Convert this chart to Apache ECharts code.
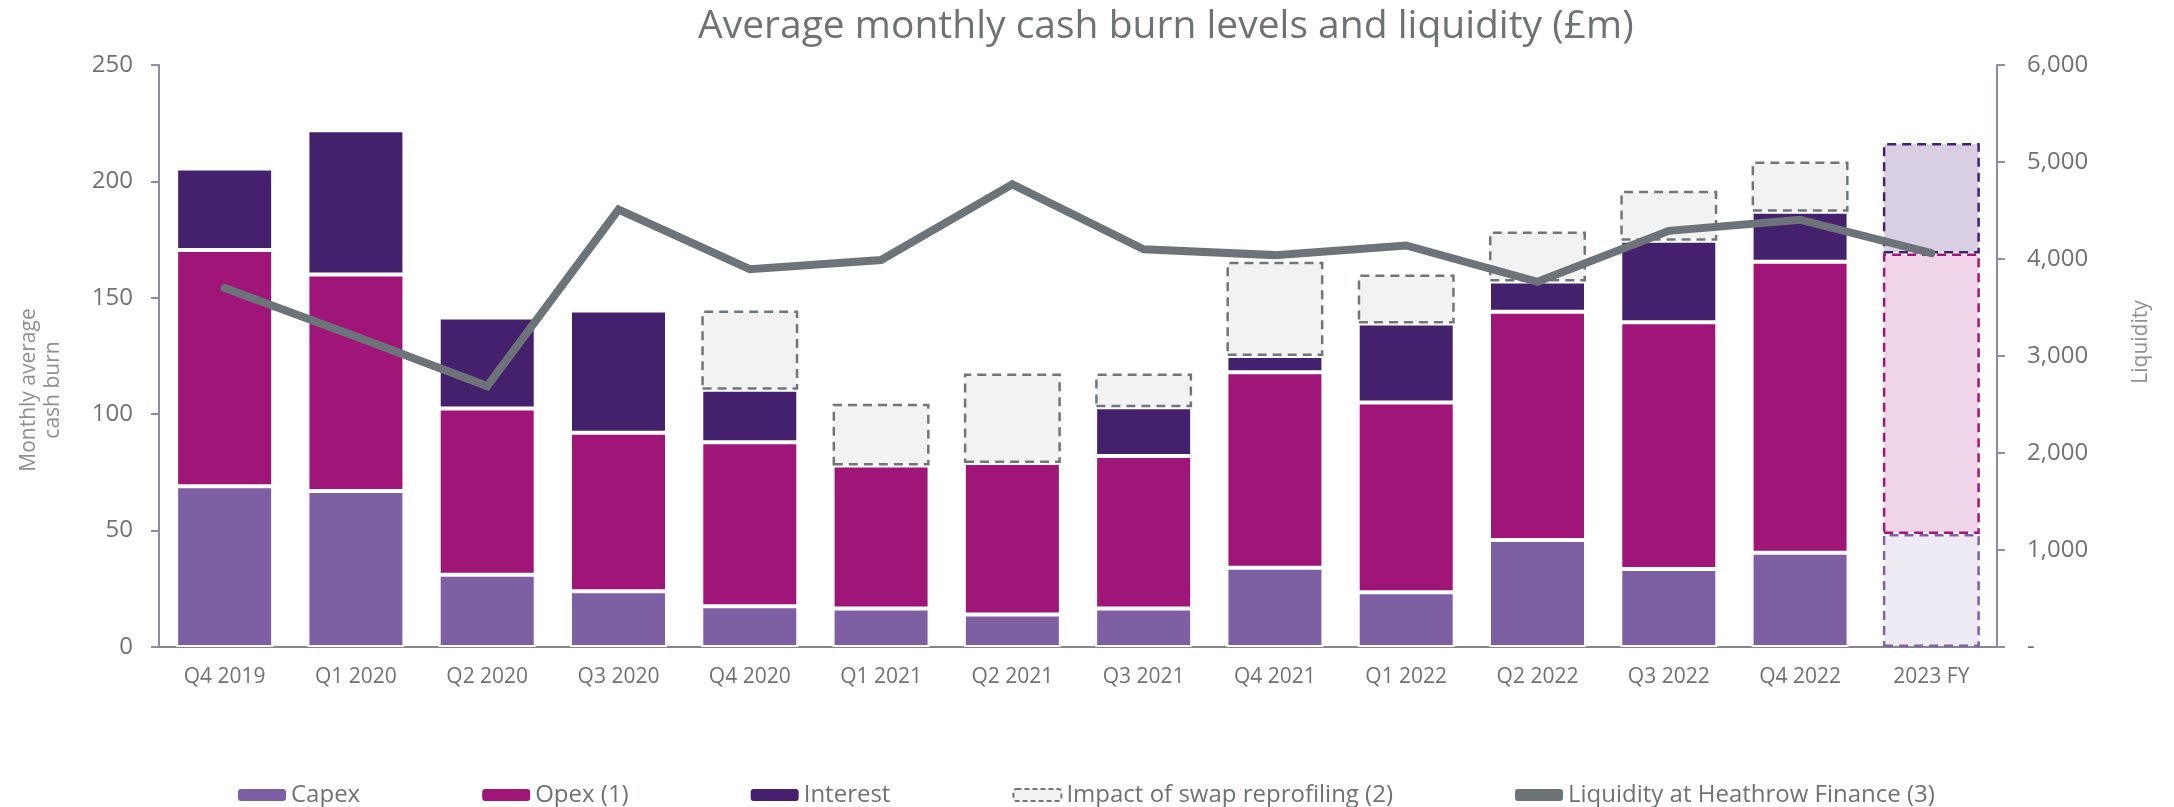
<!DOCTYPE html>
<html lang="en">
<head>
  <meta charset="UTF-8">
  <title>Average monthly cash burn levels and liquidity</title>
  <script src="https://cdn.jsdelivr.net/npm/echarts@6/dist/echarts.min.js"></script>
  <style>
    html, body, #main {
      margin: 0;
      padding: 0;
      width: 2174px;
      height: 807px;
      background: #fff;
    }
  </style>
</head>
<body>
  <div id="main"></div>

  <script>
    const quarters = ["Q4 2019", "Q1 2020", "Q2 2020", "Q3 2020", "Q4 2020", "Q1 2021", "Q2 2021",
                      "Q3 2021", "Q4 2021", "Q1 2022", "Q2 2022", "Q3 2022", "Q4 2022", "2023 FY"];

    // £m, monthly average
    const capex    = [69, 67, 31, 24, 17.5, 16.5, 14, 16.5, 34, 23.5, 46, 33.5, 40.5, 48.5];
    const opex     = [101.5, 93, 71.5, 68, 70.5, 61.5, 65, 65.5, 84, 81.5, 98, 106, 125, 120.5];
    const interest = [35, 62, 39, 52.5, 22.5, null, null, 21, 7, 34, 13, 35, 21.5, 47.5];
    const swap     = [null, null, null, null, 34, 26.5, 38.5, 14.5, 40.5, 21, 21.5, 21.5, 21.5, null];

    // £m liquidity at Heathrow Finance
    const liquidity = [3700, 3200, 2690, 4510, 3895, 3990, 4770, 4100, 4040, 4140, 3765, 4290, 4405, 4060];

    const font = "'Open Sans', sans-serif";
    const textGrey = '#6d7275';
    const lastIdx = quarters.length - 1;

    // the 2023 FY bar is a forecast: pale fill with dashed outline
    function withForecast(values, fill, edge) {
      return values.map((v, i) => i === lastIdx && v != null ? {
        value: v,
        itemStyle: { color: fill, borderColor: edge, borderType: [9, 6], borderWidth: 2.5 }
      } : v);
    }

    const chart = echarts.init(document.getElementById('main'));
    const option = {
      animation: false,
      title: {
        text: 'Average monthly cash burn levels and liquidity (£m)',
        left: 693,
        top: 2,
        textStyle: { fontFamily: font, fontSize: 39, fontWeight: 'normal', color: textGrey }
      },
      legend: {
        left: 233,
        top: 778,
        itemWidth: 48,
        itemHeight: 12,
        itemGap: 122,
        textStyle: { fontFamily: font, fontSize: 24, color: textGrey },
        data: [
          { name: 'Capex', itemStyle: { borderWidth: 0 } },
          { name: 'Opex (1)', itemStyle: { borderWidth: 0 } },
          { name: 'Interest', itemStyle: { borderWidth: 0 } },
          { name: 'Impact of swap reprofiling (2)',
            itemStyle: { color: '#f2f2f2', borderColor: '#6f767b', borderType: [5, 3], borderWidth: 2 } },
          { name: 'Liquidity at Heathrow Finance (3)', icon: 'roundRect',
            itemStyle: { color: '#6d7479', borderWidth: 0 } }
        ]
      },
      grid: { left: 159, right: 177, top: 65, bottom: 160 },
      xAxis: {
        type: 'category',
        data: quarters,
        axisLine: { lineStyle: { color: '#84878b', width: 2 } },
        axisTick: { show: false },
        axisLabel: { fontFamily: font, fontSize: 21, color: textGrey, margin: 20 }
      },
      yAxis: [
        {
          type: 'value',
          min: 0,
          max: 250,
          interval: 50,
          name: 'Monthly average\ncash burn',
          nameLocation: 'middle',
          nameRotate: 90,
          nameGap: 94,
          nameTextStyle: { fontFamily: font, fontSize: 21, color: '#8c8f93', lineHeight: 24, padding: [0, 68, 0, 0] },
          axisLine: { show: true, lineStyle: { color: '#908aa5', width: 2 } },
          axisTick: { show: true, length: 8, lineStyle: { color: '#908aa5', width: 2 } },
          axisLabel: { fontFamily: font, fontSize: 24, color: textGrey, margin: 26 },
          splitLine: { show: false }
        },
        {
          type: 'value',
          min: 0,
          max: 6000,
          interval: 1000,
          name: 'Liquidity',
          nameLocation: 'middle',
          nameRotate: 90,
          nameGap: 134,
          nameTextStyle: { fontFamily: font, fontSize: 21, color: '#8c8f93', padding: [0, 0, 0, 28] },
          axisLine: { show: true, lineStyle: { color: '#908aa5', width: 2 } },
          axisTick: { show: true, length: 8, lineStyle: { color: '#908aa5', width: 2 } },
          axisLabel: {
            fontFamily: font, fontSize: 24, color: textGrey, margin: 30,
            formatter: v => v === 0 ? '-' : v.toLocaleString('en-GB')
          },
          splitLine: { show: false }
        }
      ],
      series: [
        {
          name: 'Capex',
          type: 'bar',
          stack: 'burn',
          barWidth: 97,
          itemStyle: { color: '#7f5fa3', borderColor: '#fff', borderWidth: 2 },
          data: withForecast(capex, '#efebf4', '#8060a4')
        },
        {
          name: 'Opex (1)',
          type: 'bar',
          stack: 'burn',
          itemStyle: { color: '#9f1578', borderColor: '#fff', borderWidth: 2 },
          data: withForecast(opex, '#f0d5e9', '#a0167a')
        },
        {
          name: 'Interest',
          type: 'bar',
          stack: 'burn',
          itemStyle: { color: '#45206c', borderColor: '#fff', borderWidth: 2 },
          data: withForecast(interest, '#d8d0e2', '#46206c')
        },
        {
          name: 'Impact of swap reprofiling (2)',
          type: 'bar',
          stack: 'burn',
          itemStyle: { color: '#f2f2f2', borderColor: '#6f767b', borderType: [9, 6], borderWidth: 2.5 },
          data: swap
        },
        {
          name: 'Liquidity at Heathrow Finance (3)',
          type: 'line',
          yAxisIndex: 1,
          symbol: 'none',
          z: 5,
          lineStyle: { color: '#6d7479', width: 8, cap: 'round', join: 'miter' },
          itemStyle: { color: '#6d7479' },
          data: liquidity
        }
      ]
    };

    chart.setOption(option);
  </script>
</body>
</html>
